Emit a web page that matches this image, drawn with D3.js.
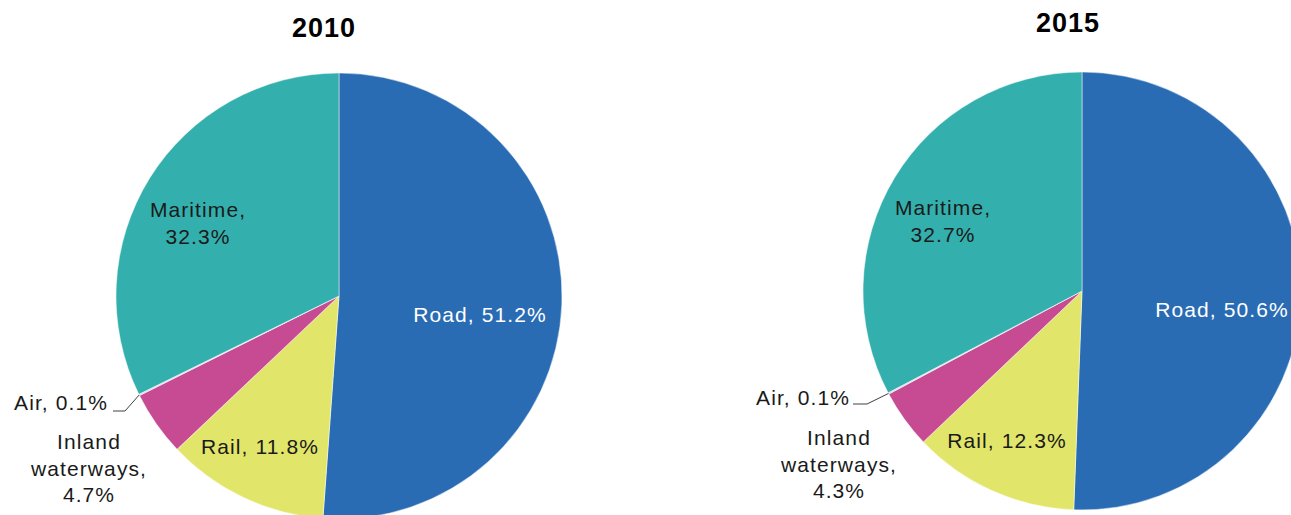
<!DOCTYPE html>
<html>
<head>
<meta charset="utf-8">
<script src="https://cdn.jsdelivr.net/npm/d3@7"></script>
<style>
    body { margin: 0; background: #fff; }
    svg { display: block; }
    text { font-family: "Liberation Sans", Arial, sans-serif; }
</style>
</head>
<body>
<div id="chart"></div>
<script>
// modes, clockwise from 12 o'clock
const categories = ["Road", "Rail", "Inland waterways", "Air", "Maritime"];
const values2010 = [51.2, 11.8, 4.7, 0.1, 32.3];
const values2015 = [50.6, 12.3, 4.3, 0.1, 32.7];
const years = ["2010", "2015"];
const colors = ["#2a6cb3", "#e1e66a", "#c64b92", "#d6d6e6", "#33b0ad"];

// label text lines per slice (shown as "name, value%")
const labelLines = [
    (v) => ["Road, " + v + "%"],
    (v) => ["Rail, " + v + "%"],
    (v) => ["Inland", "waterways,", v + "%"],
    (v) => ["Air, " + v + "%"],
    (v) => ["Maritime,", v + "%"]
];

const width = 1291, height = 515;

const svg = d3.select("#chart").append("svg")
    .attr("width", width)
    .attr("height", height);

// layout for each pie: centre, radius, title, label offsets from centre
const pies = [
    {
        values: values2010, title: years[0], cx: 339, cy: 296, r: 223,
        titleX: 324, titleY: 37,
        labels: [[141, 26], [-79, 158], [-250, 153], [-231, 114], [-141, -79]],
        leader: [[-226, 115], [-214, 115]]
    },
    {
        values: values2015, title: years[1], cx: 1082, cy: 291, r: 219,
        titleX: 1068, titleY: 32,
        labels: [[140, 26], [-75, 157], [-243, 154], [-232, 114], [-139, -76]],
        leader: [[-229, 113], [-215, 113]]
    }
];

const pie = d3.pie().sort(null).value(d => d);

pies.forEach(p => {
    const g = svg.append("g")
        .attr("transform", `translate(${p.cx},${p.cy})`);

    const arc = d3.arc().innerRadius(0).outerRadius(p.r);
    const arcs = pie(p.values);

    g.selectAll("path.slice")
        .data(arcs)
        .enter().append("path")
        .attr("class", "slice")
        .attr("d", arc)
        .attr("fill", (d, i) => colors[i])
        .attr("stroke", "#ffffff")
        .attr("stroke-opacity", 0.6)
        .attr("stroke-width", 0.8);

    svg.append("text")
        .attr("x", p.titleX)
        .attr("y", p.titleY)
        .attr("text-anchor", "middle")
        .style("font-size", "27px")
        .style("font-weight", "bold")
        .style("letter-spacing", "1px")
        .attr("fill", "#000")
        .text(p.title);

    // leader line for the tiny Air slice
    const air = arcs[3];
    const mid = (air.startAngle + air.endAngle) / 2;
    const edge = [p.r * Math.sin(mid), -p.r * Math.cos(mid)];
    g.append("path")
        .attr("d", d3.line()([p.leader[0], p.leader[1], edge]))
        .attr("fill", "none")
        .attr("stroke", "#404040")
        .attr("stroke-width", 1);

    arcs.forEach((d, i) => {
        const lines = labelLines[i](d.data);
        const [lx, ly] = p.labels[i];
        const t = g.append("text")
            .attr("x", lx)
            .attr("y", ly)
            .attr("text-anchor", i === 3 ? "end" : "middle")
            .attr("fill", i === 0 ? "#ffffff" : "#1a1a1a")
            .style("font-size", "21px")
            .style("letter-spacing", "1.1px");
        lines.forEach((line, k) => {
            t.append("tspan")
                .attr("x", lx)
                .attr("dy", k === 0 ? 0 : 26.5)
                .text(line);
        });
    });
});
</script>
</body>
</html>
